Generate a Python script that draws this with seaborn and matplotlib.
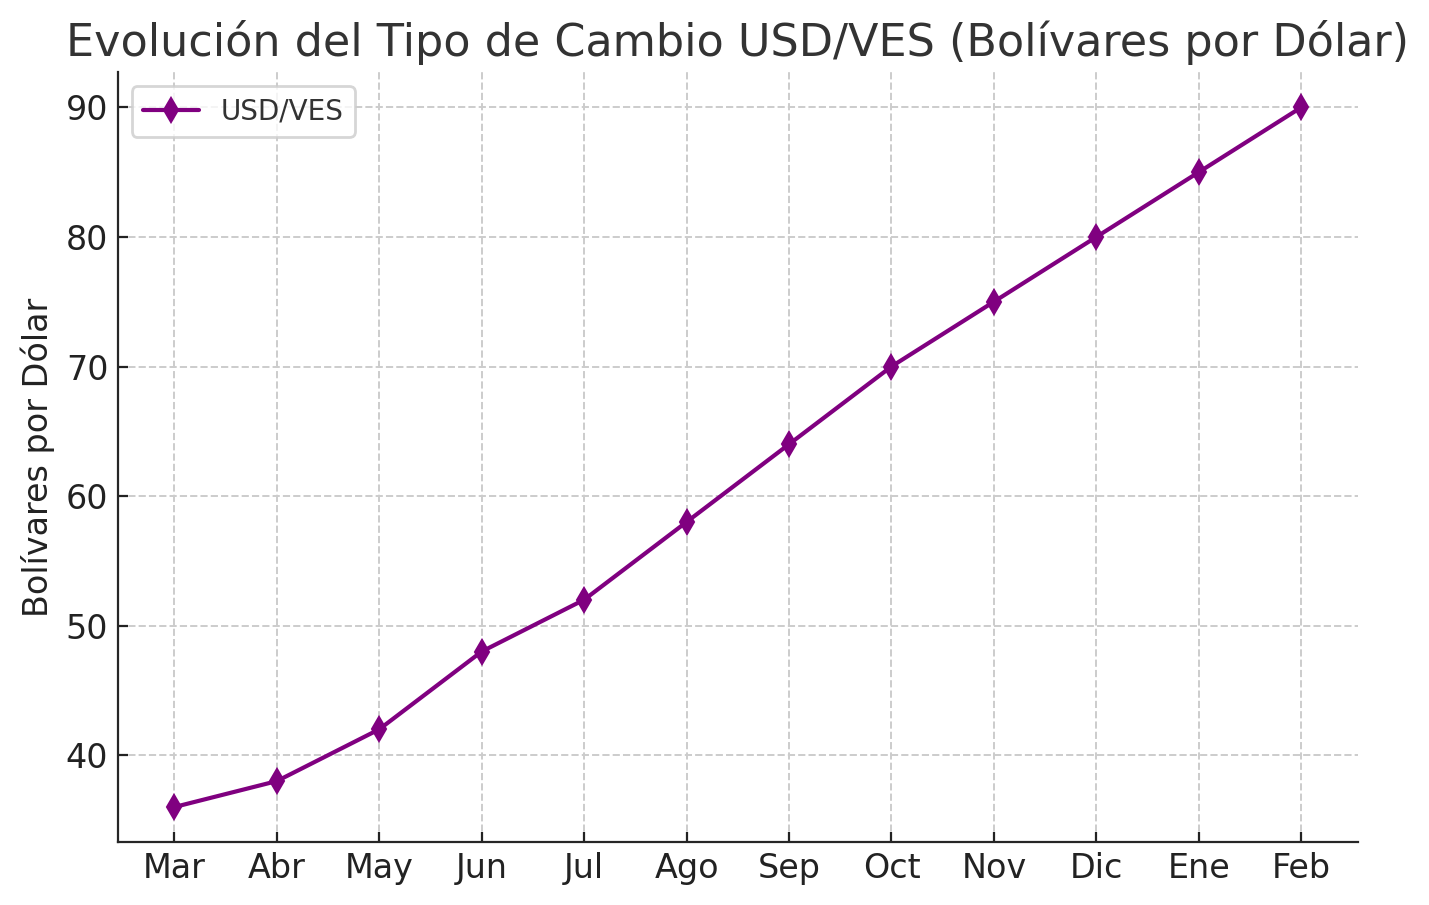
import matplotlib
matplotlib.use("Agg")
import matplotlib.pyplot as plt
import seaborn as sns
import pandas as pd

# Datos del tipo de cambio
meses = ["Mar", "Abr", "May", "Jun", "Jul", "Ago", "Sep", "Oct", "Nov", "Dic", "Ene", "Feb"]
tasa = [36, 38, 42, 48, 52, 58, 64, 70, 75, 80, 85, 90]

df = pd.DataFrame({"Mes": meses, "Tasa": tasa})

sns.set_style("ticks")
plt.rcParams["font.family"] = ["DejaVu Sans"]
plt.rcParams["text.color"] = "#333333"

fig, ax = plt.subplots(figsize=(7.145, 4.525), dpi=200)
fig.subplots_adjust(left=0.0826, right=0.950, top=0.920, bottom=0.0696)

sns.lineplot(data=df, x="Mes", y="Tasa", ax=ax, color="purple", marker="d",
             markersize=6, markeredgecolor="purple", linewidth=1.5,
             label="USD/VES", sort=False)

ax.set_title("Evolución del Tipo de Cambio USD/VES (Bolívares por Dólar)", fontsize=16, color="#333333")
ax.set_xlabel("")
ax.set_ylabel("Bolívares por Dólar", fontsize=12, color="#222222")
ax.tick_params(labelsize=12, colors="#222222", direction="in", length=3.5)
ax.grid(True, linestyle="--", color="#cccccc", linewidth=0.7)
sns.despine(ax=ax)
ax.legend(loc="upper left", fontsize=10)

plt.savefig("out.png", dpi=200)
